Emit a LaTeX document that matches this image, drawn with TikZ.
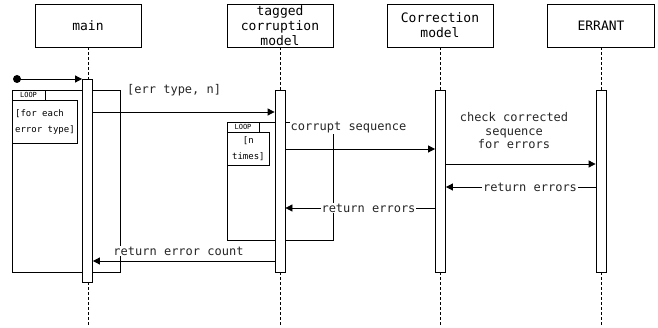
\documentclass[tikz,border=0pt]{standalone}
\usepackage{fontspec}
\setmonofont{DejaVu Sans Mono}
\usetikzlibrary{arrows.meta}
\begin{document}
\begin{tikzpicture}[x=1pt,y=-1pt,
  hdr/.style={draw, line width=0.8pt, minimum width=106pt, minimum height=43pt, align=center, inner sep=0pt,
    font=\ttfamily\fontsize{13}{15}\selectfont},
  bar/.style={draw, fill=white, line width=0.8pt, minimum width=10pt, inner sep=0pt},
  life/.style={dash pattern=on 3pt off 2pt, line width=0.8pt},
  msg/.style={line width=0.8pt, -{Triangle[length=7pt,width=7pt]}},
  lbl/.style={font=\ttfamily\fontsize{12}{13.5}\selectfont, inner sep=1pt, text=black!85},
  frm/.style={draw, line width=0.8pt},
  tab/.style={draw, fill=white, line width=0.8pt, inner sep=0pt, font=\ttfamily\fontsize{7}{8}\selectfont},
  guard/.style={draw, fill=white, line width=0.8pt, inner sep=1.5pt, font=\ttfamily\fontsize{9}{16}\selectfont}
]
\useasboundingbox (0,0) rectangle (658,328);

% headers
\node[hdr] (hm) at (88,25.5) {main};
\node[hdr] (ht) at (280,25.5) {tagged\\corruption\\model};
\node[hdr] (hc) at (440,25.5) {Correction\\model};
\node[hdr, minimum width=107pt] (he) at (601,25.5) {ERRANT};

% lifelines
\draw[life] (hm.south) -- (hm.south |- 0,326);
\draw[life] (ht.south) -- (ht.south |- 0,326);
\draw[life] (hc.south) -- (hc.south |- 0,326);
\draw[life] (he.south) -- (he.south |- 0,326);

% loop frame 1
\node[frm, minimum width=108pt, minimum height=182pt, inner sep=0pt] (f1) at (66,181) {};
\node[tab, minimum width=33pt, minimum height=10pt] (t1) at (28.5,95) {LOOP};
\node[guard, minimum width=65pt, minimum height=43pt, align=left, anchor=north west] (g1) at (12,100) {[for each\\error type]};

% loop frame 2
\node[frm, minimum width=106pt, minimum height=118pt, inner sep=0pt] (f2) at (280,181) {};
\node[tab, minimum width=32pt, minimum height=10pt] (t2) at (243,127) {LOOP};
\node[guard, minimum width=42pt, minimum height=33pt, align=center, anchor=north west] (g2) at (227,132) {[n\\times]};

% activation bars
\node[bar, minimum height=203pt] (mb) at (87.5,180.5) {};
\node[bar, minimum height=182pt] (tb) at (280,181) {};
\node[bar, minimum height=182pt] (cb) at (440.5,181) {};
\node[bar, minimum height=182pt] (eb) at (601,181) {};

% start
\fill (17,79) circle (4pt) coordinate (st);
\draw[msg] (st) -- (mb.west |- 0,79);

% messages
\draw[msg] (mb.east |- 0,112) -- (tb.west |- 0,112);
\node[lbl, anchor=west] (l1) at (126,90) {[err type, n]};

\draw[msg] (tb.east |- 0,149) -- (cb.west |- 0,149);
\node[lbl, fill=white] (l2) at (348.5,128) {corrupt sequence};

\draw[msg] (cb.east |- 0,164) -- (eb.west |- 0,164);
\node[lbl, align=center] (l3) at (514,131) {check corrected\\sequence\\for errors};

\draw[msg] (eb.west |- 0,187) -- (cb.east |- 0,187);
\node[lbl, fill=white] (l4) at (530,187) {return errors};

\draw[msg] (cb.west |- 0,208) -- (tb.east |- 0,208);
\node[lbl, fill=white] (l5) at (368.5,208) {return errors};

\draw[msg] (tb.west |- 0,261) -- (mb.east |- 0,261);
\node[lbl, fill=white] (l6) at (178.5,251) {return error count};
\end{tikzpicture}
\end{document}
